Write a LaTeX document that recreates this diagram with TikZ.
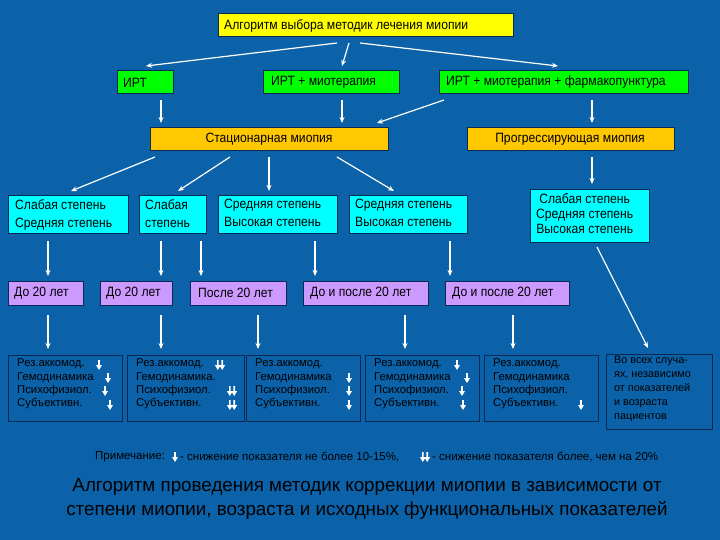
\documentclass[tikz,border=0pt]{standalone}
\usepackage{fontspec}
\setmainfont{Liberation Sans}
\newfontfamily\narrow{Liberation Sans}[FakeStretch=0.9]
\usetikzlibrary{arrows.meta}
\definecolor{bg}{HTML}{0B62A8}
\definecolor{ylw}{HTML}{FFFF00}
\definecolor{grn}{HTML}{00FF00}
\definecolor{org}{HTML}{FFC800}
\definecolor{cyn}{HTML}{00FFFF}
\definecolor{vio}{HTML}{CC99FF}
\definecolor{nav}{HTML}{0A2A55}
\begin{document}
\begin{tikzpicture}[x=1pt,y=-1pt,
  bx/.style={draw=nav,line width=1pt},
  lbl/.style={font=\narrow\fontsize{13.5}{16}\selectfont,inner sep=0pt},
  txt/.style={font=\narrow\fontsize{13.5}{18}\selectfont,inner sep=0pt,anchor=north west,align=left},
  btx/.style={font=\fontsize{11.3}{13.3}\selectfont,inner sep=0pt,anchor=north west,align=left},
  ar/.style={draw=white,line width=1.2pt,-{Stealth[length=6pt,width=5pt]}},
  sa/.pic={\fill[white] (-0.8,-5)rectangle(0.8,0) (-3,0)--(3,0)--(0,5)--cycle;},
  da/.pic={\pic at (-2.2,0){sa};\pic at (2.2,0){sa};}]
\fill[bg] (0,0) rectangle (720,540);
\useasboundingbox (0,0) rectangle (720,540);
% title
\draw[bx,fill=ylw] (218,14) rectangle (513,37);
\node[lbl,anchor=west] (t) at (224,25.5) {Алгоритм выбора методик лечения миопии};
% green
\draw[bx,fill=grn] (117,71) rectangle (173,94); \node[lbl,anchor=west] (g1) at (123,82.5) {ИРТ};
\draw[bx,fill=grn] (263,71) rectangle (399,94); \node[lbl,anchor=west] (g2) at (271,82.5) {ИРТ + миотерапия};
\draw[bx,fill=grn] (439,71) rectangle (688,94); \node[lbl,anchor=west] (g3) at (446,82.5) {ИРТ + миотерапия + фармакопунктура};
% orange
\draw[bx,fill=org] (150,128) rectangle (388,151); \node[lbl] (o1) at (269,139.5) {Стационарная миопия};
\draw[bx,fill=org] (467,128) rectangle (674,151); \node[lbl] (o2) at (570,139.5) {Прогрессирующая миопия};
% cyan
\draw[bx,fill=cyn] (8,196) rectangle (128,233); \node[txt] (c1) at (15,199) {Слабая степень\\Средняя степень};
\draw[bx,fill=cyn] (139,196) rectangle (206,233); \node[txt] (c2) at (145,199) {Слабая\\степень};
\draw[bx,fill=cyn] (218,196) rectangle (337,233); \node[txt] (c3) at (224,199) {Средняя степень\\Высокая степень};
\draw[bx,fill=cyn] (349,196) rectangle (467,233); \node[txt] (c4) at (355,199) {Средняя степень\\Высокая степень};
\draw[bx,fill=cyn] (530,190) rectangle (649,242); \node[txt,align=center,font=\narrow\fontsize{13.5}{15}\selectfont] (c5) at (536,193) {Слабая степень\\Средняя степень\\Высокая степень};
% violet
\draw[bx,fill=vio] (8,281) rectangle (83,305); \node[lbl,anchor=west] (p1) at (14,293) {До 20 лет};
\draw[bx,fill=vio] (100,281) rectangle (172,305); \node[lbl,anchor=west] (p2) at (106,293) {До 20 лет};
\draw[bx,fill=vio] (190,281) rectangle (286,305); \node[lbl,anchor=west] (p3) at (198,293) {После 20 лет};
\draw[bx,fill=vio] (303,281) rectangle (428,305); \node[lbl,anchor=west] (p4) at (310,293) {До и после 20 лет};
\draw[bx,fill=vio] (445,281) rectangle (569,305); \node[lbl,anchor=west] (p5) at (452,293) {До и после 20 лет};
% bottom
\foreach \a/\b/\n in {8/122/1,127/244/2,246/360/3,365/479/4,484/598/5}{
  \draw[bx] (\a,355) rectangle (\b,421);
  \node[btx] (r\n) at (\a+9,359) {Рез.аккомод.\\Гемодинамика\ifnum\n=2.\fi\\Психофизиол.\\Субъективн.};}
\draw[bx] (606,354) rectangle (712,429);
\node[btx,font=\fontsize{10.8}{14}\selectfont] (r6) at (614,356) {Во всех случа-\\ях, независимо\\от показателей\\и возраста\\пациентов};
% small arrows
\foreach \x/\y in {99/365,108/378,105/391,110/405, 349/378,349/391,349/405, 457/365,467/378,462/391,463/405, 581/405}{\pic at (\x,\y){sa};}
\foreach \x/\y in {220/365,232/391,232/405}{\pic at (\x,\y){da};}
% note
\node[inner sep=0pt,font=\fontsize{11.5}{13}\selectfont,anchor=west] (n1) at (95,457) {Примечание:};
\pic at (175,457){sa};
\node[inner sep=0pt,font=\fontsize{11.5}{13}\selectfont,anchor=west] (n2) at (180,457) {- снижение показателя не более 10-15\%,};
\pic at (425,457){da};
\node[inner sep=0pt,font=\fontsize{11.5}{13}\selectfont,anchor=west] (n3) at (432,457) {- снижение показателя более, чем на 20\%};
% caption
\node[font=\fontsize{18.8}{24}\selectfont,align=center,inner sep=0pt] (cap) at (367,499) {Алгоритм проведения методик коррекции миопии в зависимости от\\степени миопии, возраста и исходных функциональных показателей};
% connectors
\coordinate (t1) at (337,43); \coordinate (t2) at (349,43); \coordinate (t3) at (360,43);
\draw[ar] (t1) -- (146,66); \draw[ar] (t2) -- (342,66); \draw[ar] (t3) -- (558,66);
\draw[ar] (161,100) -- (161,123); \draw[ar] (342,100) -- (342,123);
\draw[ar] (444,100) -- (377,123); \draw[ar] (592,100) -- (592,123);
\draw[ar] (155,157) -- (71,191); \draw[ar] (230,157) -- (178,191);
\draw[ar] (269,157) -- (269,191); \draw[ar] (337,157) -- (394,191);
\draw[ar] (592,157) -- (592,184);
\foreach \x in {48,161,201,315,450}{\draw[ar] (\x,241) -- (\x,276);}
\foreach \x in {48,161,258,405,513}{\draw[ar] (\x,315) -- (\x,349);}
\draw[ar] (597,247) -- (648,348);
\end{tikzpicture}
\end{document}
